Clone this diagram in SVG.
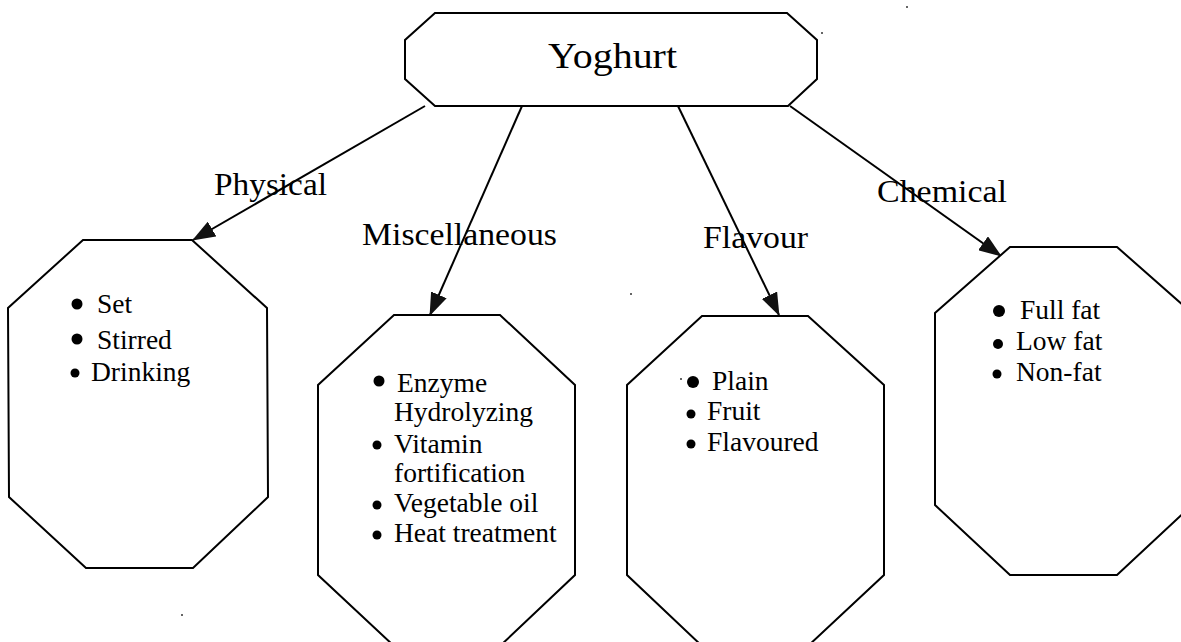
<svg xmlns="http://www.w3.org/2000/svg" width="1181" height="642" viewBox="0 0 1181 642">
<defs>
<style>
.box{fill:#fff;stroke:#000;stroke-width:2;stroke-linejoin:miter}
.conn{stroke:#000;stroke-width:2;fill:none}
.t{font-family:"Liberation Serif","Times New Roman",serif;font-size:27.5px;fill:#000}
.lbl{font-family:"Liberation Serif","Times New Roman",serif;font-size:31px;fill:#000}
.b{fill:#000}
.speck{fill:#333}
</style>
<marker id="arr" markerUnits="userSpaceOnUse" markerWidth="23" markerHeight="17" refX="22" refY="8.5" orient="auto">
<path d="M0,0 L23,8.5 L0,17 Z" fill="#111"/>
</marker>
</defs>
<rect width="1181" height="642" fill="#fff"/>

<g id="connectors">
<line class="conn" x1="425" y1="106" x2="193" y2="240" marker-end="url(#arr)"/>
<line class="conn" x1="522" y1="106" x2="430" y2="315" marker-end="url(#arr)"/>
<line class="conn" x1="678" y1="106" x2="779" y2="315" marker-end="url(#arr)"/>
<line class="conn" x1="790" y1="106" x2="1001" y2="256" marker-end="url(#arr)"/>
</g>

<g id="yoghurt">
<polygon class="box" points="435,13 787,13 817,40 817,79 788,106 435,106 405,79 405,40"/>
<text class="lbl" x="548" y="68" style="font-size:36px" textLength="129" lengthAdjust="spacingAndGlyphs">Yoghurt</text>
</g>

<g id="labels">
<text class="lbl" x="214" y="195" textLength="113" lengthAdjust="spacingAndGlyphs">Physical</text>
<text class="lbl" x="362" y="245" textLength="195" lengthAdjust="spacingAndGlyphs">Miscellaneous</text>
<text class="lbl" x="703" y="248" textLength="105" lengthAdjust="spacingAndGlyphs">Flavour</text>
<text class="lbl" x="877" y="202" textLength="130" lengthAdjust="spacingAndGlyphs">Chemical</text>
</g>

<g id="physical">
<polygon class="box" points="83,240 192,240 267,308 268,497 193,568 86,568 9,497 8,308"/>
<circle class="b" cx="77" cy="304" r="5.5"/>
<text class="t" x="97" y="313">Set</text>
<circle class="b" cx="77" cy="339" r="5.5"/>
<text class="t" x="97" y="349">Stirred</text>
<circle class="b" cx="75" cy="373" r="4.5"/>
<text class="t" x="91" y="381">Drinking</text>
</g>

<g id="miscellaneous">
<polygon class="box" points="394,315 500,315 575,385 575,575 500,646 394,646 318,575 318,385"/>
<circle class="b" cx="379" cy="381" r="5.5"/>
<text class="t" x="397" y="392">Enzyme</text>
<text class="t" x="394" y="421">Hydrolyzing</text>
<circle class="b" cx="377" cy="445" r="4.5"/>
<text class="t" x="394" y="453">Vitamin</text>
<text class="t" x="394" y="482">fortification</text>
<circle class="b" cx="377" cy="505" r="4.5"/>
<text class="t" x="394" y="512">Vegetable oil</text>
<circle class="b" cx="377" cy="535" r="4.5"/>
<text class="t" x="394" y="542">Heat treatment</text>
</g>

<g id="flavour">
<polygon class="box" points="702,316 808,316 884,385 884,575 808,646 702,646 627,575 627,385"/>
<circle class="speck" cx="681" cy="379" r="1"/>
<circle class="b" cx="693" cy="382" r="6"/>
<text class="t" x="712" y="390">Plain</text>
<circle class="b" cx="691" cy="414" r="4.5"/>
<text class="t" x="707" y="420">Fruit</text>
<circle class="b" cx="691" cy="444" r="4.5"/>
<text class="t" x="707" y="451">Flavoured</text>
</g>

<g id="chemical">
<polygon class="box" points="1010,247 1117,247 1192,313 1192,505 1117,575 1010,575 935,505 935,313"/>
<circle class="b" cx="999" cy="311" r="6"/>
<text class="t" x="1020" y="319">Full fat</text>
<circle class="b" cx="998" cy="344" r="5"/>
<text class="t" x="1016" y="350">Low fat</text>
<circle class="b" cx="997" cy="374" r="4.5"/>
<text class="t" x="1016" y="381">Non-fat</text>
</g>

<g id="specks">
<circle class="speck" cx="907" cy="7" r="1"/>
<circle class="speck" cx="822" cy="33" r="1"/>
<circle class="speck" cx="631" cy="294" r="1"/>
<circle class="speck" cx="182" cy="615" r="1"/>
</g>
</svg>
